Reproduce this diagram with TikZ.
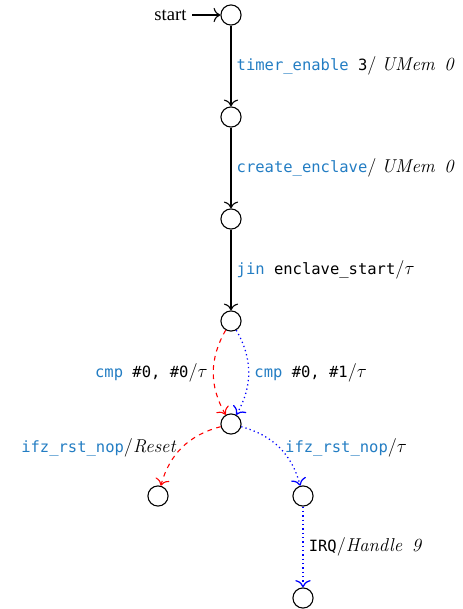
\documentclass[tikz,border=0pt]{standalone}
\usepackage{fontspec}
\usetikzlibrary{arrows.meta}
\newfontfamily\codefont{DejaVu Sans Mono}[Scale=1.0]
\newfontfamily\seriffont{Liberation Serif}
\definecolor{kwblue}{RGB}{35,125,195}
\newcommand{\kw}[1]{{\color{kwblue}#1}}
\newcommand{\cd}[1]{{\codefont #1}}
% italic outputs and tau are set a size larger than the code text
\newcommand{\outp}[1]{{\fontsize{12}{14}\selectfont\textit{#1}}}
\newcommand{\slsh}{{\fontsize{12}{14}\selectfont/}}
\newcommand{\silent}{{\fontsize{12}{14}\selectfont$\tau$}}
\begin{document}
\begin{tikzpicture}[x=0.645pt,y=-0.645pt,
  >={To[scale=1.4]},
  state/.style={draw,circle,line width=0.7pt,minimum size=13pt,inner sep=0pt},
  trans/.style={->,line width=0.7pt},
  bad/.style={->,red,dashed,line width=0.7pt},
  good/.style={->,blue,dotted,line width=0.8pt},
  lbl/.style={font=\normalsize,text=black}]
  \useasboundingbox (0,0) rectangle (462,609);

  % states
  \node[state] (s0) at (231,15) {};
  \node[state] (s1) at (231,117) {};
  \node[state] (s2) at (231,219) {};
  \node[state] (s3) at (231,321) {};
  \node[state] (s4) at (231,424) {};
  \node[state] (s5) at (158,496) {};
  \node[state] (s6) at (303,496) {};
  \node[state] (s7) at (303,598) {};

  % initial marker
  \node[anchor=east,font=\seriffont\fontsize{12}{14}\selectfont] (start) at (192,15) {start};
  \draw[trans] (start) -- (s0);

  % straight-line setup
  \draw[trans] (s0) -- node[lbl,right] {\cd{\kw{timer\_enable} 3}\slsh\ \outp{UMem\, 0}} (s1);
  \draw[trans] (s1) -- node[lbl,right] {\cd{\kw{create\_enclave}}\slsh\ \outp{UMem\, 0}} (s2);
  \draw[trans] (s2) -- node[lbl,right] {\cd{\kw{jin} enclave\_start}\slsh\silent} (s3);

  % comparison branches
  \draw[bad] (s3) to[bend right=30] node[lbl,left] {\cd{\kw{cmp} \#0, \#0}\slsh\silent} (s4);
  \draw[good] (s3) to[bend left=30] node[lbl,right] {\cd{\kw{cmp} \#0, \#1}\slsh\silent} (s4);

  % reset / interrupt paths
  \draw[bad] (s4) to[bend right=30] node[lbl,left] {\cd{\kw{ifz\_rst\_nop}}\slsh\outp{Reset}} (s5);
  \draw[good] (s4) to[bend left=30] node[lbl,right] {\cd{\kw{ifz\_rst\_nop}}\slsh\silent} (s6);
  \draw[good] (s6) -- node[lbl,right] {\cd{IRQ}\slsh\outp{Handle\, 9}} (s7);
\end{tikzpicture}
\end{document}
